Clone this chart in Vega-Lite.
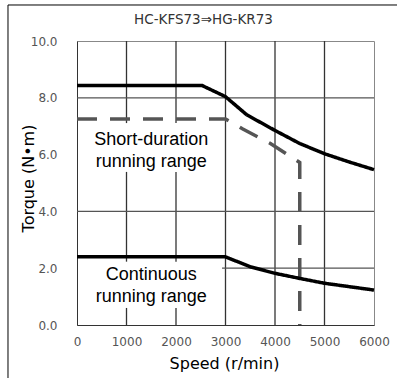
{
  "$schema": "https://vega.github.io/schema/vega-lite/v6.json",
  "autosize": "none",
  "width": 297,
  "height": 284,
  "padding": {"left": 77, "top": 41, "right": 23, "bottom": 53},
  "background": "white",
  "title": {
    "text": "HC-KFS73⇒HG-KR73",
    "font": "DejaVu Sans",
    "fontSize": 13.5,
    "fontWeight": "normal",
    "color": "#333",
    "anchor": "middle",
    "baseline": "alphabetic",
    "offset": -33,
    "dx": -22
  },
  "config": {
    "view": {"stroke": "#888", "strokeWidth": 1},
    "axis": {
      "labelFont": "DejaVu Sans",
      "labelFontSize": 12,
      "labelColor": "#555",
      "titleFont": "DejaVu Sans",
      "titleFontSize": 16,
      "titleFontWeight": "normal",
      "titleColor": "#000",
      "ticks": false,
      "domain": true,
      "domainColor": "#333",
      "grid": false
    }
  },
  "datasets": {
    "curves": [
      {"series": "peak", "i": 0, "speed": 0, "torque": 8.43},
      {"series": "peak", "i": 1, "speed": 2530, "torque": 8.43},
      {"series": "peak", "i": 2, "speed": 3000, "torque": 8.04},
      {"series": "peak", "i": 3, "speed": 3430, "torque": 7.4},
      {"series": "peak", "i": 4, "speed": 4000, "torque": 6.85},
      {"series": "peak", "i": 5, "speed": 4500, "torque": 6.39},
      {"series": "peak", "i": 6, "speed": 5000, "torque": 6.03},
      {"series": "peak", "i": 7, "speed": 5500, "torque": 5.74},
      {"series": "peak", "i": 8, "speed": 6000, "torque": 5.47},
      {"series": "short", "i": 0, "speed": 0, "torque": 7.25},
      {"series": "short", "i": 1, "speed": 3000, "torque": 7.25},
      {"series": "short", "i": 2, "speed": 3350, "torque": 6.9},
      {"series": "short", "i": 3, "speed": 3900, "torque": 6.4},
      {"series": "short", "i": 4, "speed": 4500, "torque": 5.72},
      {"series": "short", "i": 5, "speed": 4500, "torque": 0},
      {"series": "cont", "i": 0, "speed": 0, "torque": 2.4},
      {"series": "cont", "i": 1, "speed": 3000, "torque": 2.4},
      {"series": "cont", "i": 2, "speed": 3500, "torque": 2.05},
      {"series": "cont", "i": 3, "speed": 4000, "torque": 1.82},
      {"series": "cont", "i": 4, "speed": 4500, "torque": 1.64},
      {"series": "cont", "i": 5, "speed": 5000, "torque": 1.47},
      {"series": "cont", "i": 6, "speed": 5500, "torque": 1.35},
      {"series": "cont", "i": 7, "speed": 6000, "torque": 1.23}
    ],
    "vgrid": [
      {"x0": 1000, "x1": 1000, "y0": 0, "y1": 0.6},
      {"x0": 1000, "x1": 1000, "y0": 2.23, "y1": 5.39},
      {"x0": 1000, "x1": 1000, "y0": 7.11, "y1": 10},
      {"x0": 2000, "x1": 2000, "y0": 0, "y1": 0.6},
      {"x0": 2000, "x1": 2000, "y0": 2.23, "y1": 5.39},
      {"x0": 2000, "x1": 2000, "y0": 7.11, "y1": 10},
      {"x0": 3000, "x1": 3000, "y0": 0, "y1": 10},
      {"x0": 4000, "x1": 4000, "y0": 0, "y1": 10},
      {"x0": 5000, "x1": 5000, "y0": 0, "y1": 10}
    ],
    "hgrid": [
      {"x0": 2930, "x1": 6000, "y0": 2, "y1": 2},
      {"x0": 0, "x1": 6000, "y0": 4, "y1": 4},
      {"x0": 0, "x1": 6000, "y0": 8, "y1": 8}
    ],
    "labels": [
      {"speed": 1500, "torque": 6.34, "label": "Short-duration\nrunning range"},
      {"speed": 1500, "torque": 1.6, "label": "Continuous\nrunning range"}
    ],
    "frame": [
      {"x0": -1394, "x1": 6465, "y0": 11.268, "y1": 11.268},
      {"x0": -1394, "x1": -1394, "y0": 11.268, "y1": -1.87}
    ]
  },
  "layer": [
    {
      "data": {"name": "vgrid"},
      "mark": {"type": "rule", "color": "#333", "strokeWidth": 1.3},
      "encoding": {
        "x": {"field": "x0", "type": "quantitative"},
        "x2": {"field": "x1"},
        "y": {"field": "y0", "type": "quantitative"},
        "y2": {"field": "y1"}
      }
    },
    {
      "data": {"name": "hgrid"},
      "mark": {"type": "rule", "color": "#555", "strokeWidth": 1.3},
      "encoding": {
        "x": {"field": "x0", "type": "quantitative"},
        "x2": {"field": "x1"},
        "y": {"field": "y0", "type": "quantitative"},
        "y2": {"field": "y1"}
      }
    },
    {
      "data": {"name": "curves"},
      "mark": {"type": "line", "strokeWidth": 3.5, "strokeCap": "butt", "strokeJoin": "miter"},
      "encoding": {
        "x": {
          "field": "speed", "type": "quantitative",
          "scale": {"domain": [0, 6000], "nice": false},
          "axis": {
            "title": "Speed (r/min)",
            "values": [0, 1000, 2000, 3000, 4000, 5000, 6000],
            "format": "d",
            "labelOverlap": false,
            "labelFlush": false,
            "labelPadding": 11,
            "titleX": 147,
            "titleY": 43,
            "titleBaseline": "alphabetic"
          }
        },
        "y": {
          "field": "torque", "type": "quantitative",
          "scale": {"domain": [0, 10], "nice": false},
          "axis": {
            "title": "Torque (N•m)",
            "values": [0, 2, 4, 6, 8, 10],
            "format": ".1f",
            "labelOverlap": false,
            "labelFlush": false,
            "labelPadding": 20,
            "titleX": -44,
            "titleY": 137,
            "titleBaseline": "alphabetic"
          }
        },
        "detail": {"field": "series"},
        "order": {"field": "i"},
        "color": {
          "field": "series", "type": "nominal", "legend": null,
          "scale": {"domain": ["peak", "short", "cont"], "range": ["#000000", "#555555", "#000000"]}
        },
        "strokeDash": {
          "field": "series", "type": "nominal", "legend": null,
          "scale": {"domain": ["peak", "short", "cont"], "range": [[1, 0], [20, 13], [1, 0]]}
        }
      }
    },
    {
      "data": {"name": "labels"},
      "mark": {"type": "text", "font": "Liberation Sans", "fontSize": 18, "lineBreak": "\n", "lineHeight": 22, "baseline": "alphabetic", "align": "center", "color": "#000"},
      "encoding": {
        "x": {"field": "speed", "type": "quantitative"},
        "y": {"field": "torque", "type": "quantitative"},
        "text": {"field": "label"}
      }
    },
    {
      "data": {"name": "frame"},
      "mark": {"type": "rule", "color": "#000", "strokeWidth": 1},
      "encoding": {
        "x": {"field": "x0", "type": "quantitative"},
        "x2": {"field": "x1"},
        "y": {"field": "y0", "type": "quantitative"},
        "y2": {"field": "y1"}
      }
    }
  ]
}
